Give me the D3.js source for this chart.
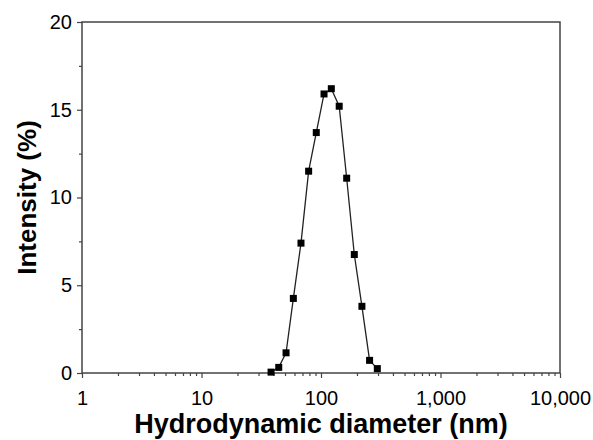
<!DOCTYPE html>
<html>
<head>
<meta charset="utf-8">
<script src="https://cdn.jsdelivr.net/npm/d3@7"></script>
<style>
  html, body { margin: 0; padding: 0; background: #fff; }
  svg { display: block; }
  text { font-family: "Liberation Sans", Arial, sans-serif; fill: #000; }
</style>
</head>
<body>
<svg id="chart" width="593" height="440"></svg>
<script>
const diameters = [38.2, 44.3, 51, 58.7, 68, 78.8, 91.3, 106, 122, 142, 164, 190, 220, 255, 296];
const intensities = [0.05, 0.32, 1.15, 4.25, 7.4, 11.5, 13.7, 15.9, 16.2, 15.2, 11.1, 6.75, 3.8, 0.72, 0.25];
const xTicks = [1, 10, 100, 1000, 10000];
const xTickLabels = ["1", "10", "100", "1,000", "10,000"];
const yTicks = [0, 5, 10, 15, 20];
const yMinorTicks = [2.5, 7.5, 12.5, 17.5];
const xTitle = "Hydrodynamic diameter (nm)";
const yTitle = "Intensity (%)";

const svg = d3.select("#chart");
const mLeft = 82, mRight = 560, mTop = 22, mBottom = 373;

const x = d3.scaleLog().domain([1, 10000]).range([mLeft, mRight]);
const y = d3.scaleLinear().domain([0, 20]).range([mBottom, mTop]);

const axisColor = "#444";

// minor x ticks
const xMinor = [];
for (let e = 0; e < 4; e++) for (let m = 2; m <= 9; m++) xMinor.push(m * Math.pow(10, e));

// frame
svg.append("rect")
  .attr("x", mLeft).attr("y", mTop)
  .attr("width", mRight - mLeft).attr("height", mBottom - mTop)
  .attr("fill", "none").attr("stroke", axisColor).attr("stroke-width", 1.5);

// x axis
const xAxis = d3.axisBottom(x).tickValues(xTicks)
  .tickFormat((d, i) => xTickLabels[i]).tickSize(5).tickPadding(13);
const gx = svg.append("g").attr("transform", `translate(0,${mBottom})`).call(xAxis);
gx.select(".domain").remove();
gx.selectAll("line").attr("stroke", axisColor).attr("stroke-width", 1.2);
gx.selectAll("text").style("font-size", "20px").attr("fill", "#000");

const gxm = svg.append("g").attr("transform", `translate(0,${mBottom})`)
  .call(d3.axisBottom(x).tickValues(xMinor).tickSize(3).tickFormat(""));
gxm.select(".domain").remove();
gxm.selectAll("line").attr("stroke", axisColor).attr("stroke-width", 1.2);

// y axis
const yAxis = d3.axisLeft(y).tickValues(yTicks).tickSize(5).tickPadding(5);
const gy = svg.append("g").attr("transform", `translate(${mLeft},0)`).call(yAxis);
gy.select(".domain").remove();
gy.selectAll("line").attr("stroke", axisColor).attr("stroke-width", 1.2);
gy.selectAll("text").style("font-size", "20px").attr("fill", "#000");

const gym = svg.append("g").attr("transform", `translate(${mLeft},0)`)
  .call(d3.axisLeft(y).tickValues(yMinorTicks).tickSize(3).tickFormat(""));
gym.select(".domain").remove();
gym.selectAll("line").attr("stroke", axisColor).attr("stroke-width", 1.2);

// titles
svg.append("text")
  .attr("x", 321).attr("y", 433)
  .attr("text-anchor", "middle")
  .style("font-size", "27px").style("font-weight", "bold")
  .text(xTitle);

svg.append("text")
  .attr("transform", `translate(36,${(mTop + mBottom) / 2}) rotate(-90)`)
  .attr("text-anchor", "middle")
  .style("font-size", "26px").style("font-weight", "bold")
  .text(yTitle);

// data
const data = diameters.map((d, i) => ({ d, v: intensities[i] }));
const line = d3.line().x(p => x(p.d)).y(p => y(p.v));
svg.append("path").datum(data)
  .attr("d", line).attr("fill", "none")
  .attr("stroke", "#222").attr("stroke-width", 1.3);

const s = 7;
svg.selectAll("rect.pt").data(data).enter().append("rect")
  .attr("class", "pt")
  .attr("x", p => x(p.d) - s / 2).attr("y", p => y(p.v) - s / 2)
  .attr("width", s).attr("height", s)
  .attr("fill", "#000");
</script>
</body>
</html>
